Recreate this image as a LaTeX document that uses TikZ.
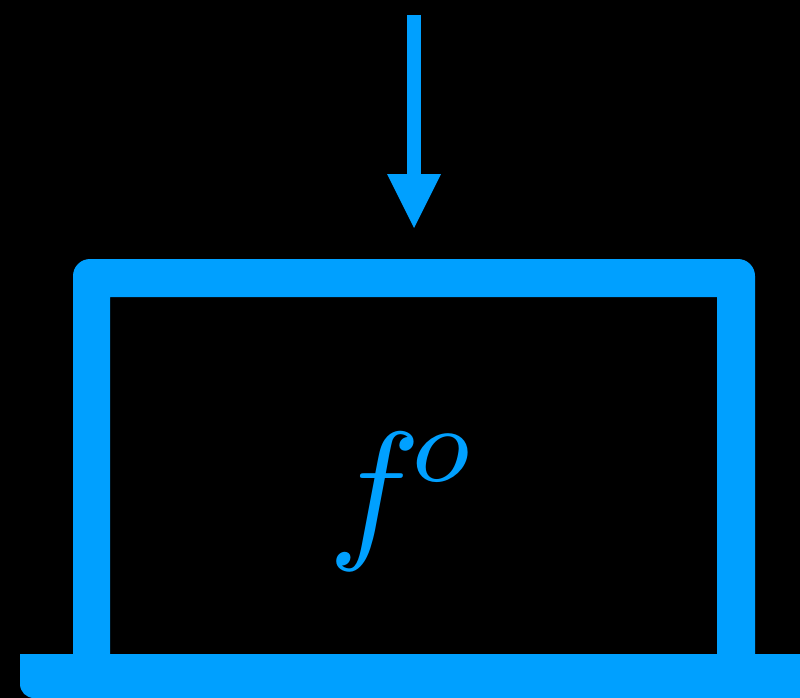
\documentclass[tikz,border=0pt]{standalone}
\definecolor{ibm}{RGB}{0,160,255}
\begin{document}
\begin{tikzpicture}[x=1pt,y=-1pt,
  wall/.style={fill=ibm,draw=none},
  conn/.style={draw=ibm,line width=14pt}]
\useasboundingbox[fill=black] (0,0) rectangle (800,698);
% screen frame
\fill[wall,even odd rule]
  (73,654) [rounded corners=17pt] -- (73,259) -- (755,259) [sharp corners] -- (755,654) -- cycle
  (110,297) -- (717,297) -- (717,654) -- (110,654) -- cycle;
% base
\fill[wall] (800,654) -- (20,654) [rounded corners=14pt] -- (20,698) [sharp corners] -- (800,698) -- cycle;
% arrow
\coordinate (top) at (414,15);
\coordinate (shaft) at (414,175);
\coordinate (tip) at (414,228);
\draw[conn] (top) -- (shaft);
\fill[ibm] (387,174) -- (441,174) -- (tip) -- cycle;
\node[text=ibm,inner sep=0pt,scale=15.5] (f) at (403.5,502) {$f^{\mkern-1.5mu\raisebox{0.2pt}{$\scriptstyle o$}}$};
\end{tikzpicture}
\end{document}
